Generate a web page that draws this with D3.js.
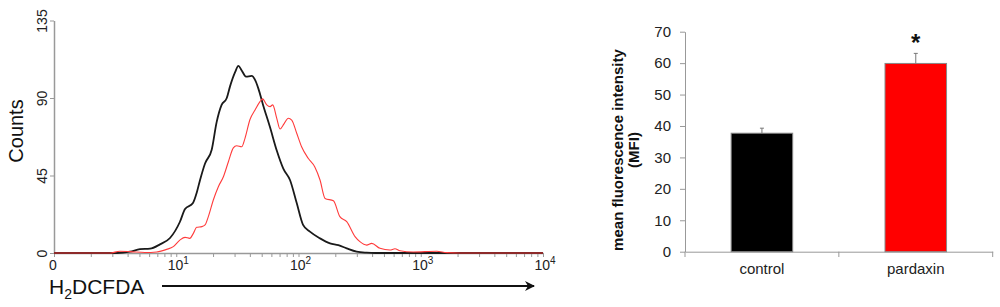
<!DOCTYPE html>
<html>
<head>
<meta charset="utf-8">
<script src="https://cdn.jsdelivr.net/npm/d3@7"></script>
<style>
  body { margin: 0; background: #fff; }
  text { font-family: Arial, "Liberation Sans", sans-serif; }
</style>
</head>
<body>
<div id="chart"></div>
<script>
// histogram traces: fluorescence intensity (log) vs counts
var control_intensity = [1, 3.27, 4.19, 5.05, 6.10, 7.36, 8.89, 10.7, 11.8, 13.7, 14.7, 15.6, 17.2, 19.5, 21.4, 23.5, 25.9, 27.5, 30.3, 32.2, 34.3, 37.2, 41.4, 44.1, 46.9, 51.3, 58.5, 66.4, 75.1, 85.2, 96.7, 109, 124, 150, 181, 212, 248, 299, 361, 423, 10000];
var control_counts    = [0, 0, 0.8, 2.2, 2.5, 5, 8.7, 18, 25.5, 29, 35, 42, 52, 60, 76, 86, 90, 96.6, 105, 108.6, 106, 102.4, 102.8, 100.5, 95.6, 86, 73, 59.5, 49, 42.4, 29, 16.3, 12.4, 8.5, 5.6, 4.6, 2.7, 0.8, 0.2, 0, 0];

var pardaxin_intensity = [1, 2.87, 3.46, 4.19, 5.55, 6.92, 8.35, 9.46, 10.7, 11.8, 12.9, 13.8, 14.7, 16.2, 17.2, 18.3, 20.1, 22.1, 24.3, 26.7, 29.3, 31.2, 34.3, 36.5, 40.1, 44.1, 48.4, 50.8, 55.0, 58.5, 61.5, 66.4, 70.6, 76.1, 82.5, 88.0, 96.7, 106, 120, 136, 150, 165, 193, 218, 248, 290, 318, 361, 397, 464, 560, 615, 676, 865, 1350, 1630, 2094, 10000];
var pardaxin_counts    = [0, 0, 1, 0.8, 0.3, 0.6, 2.1, 3.7, 7.5, 9.1, 8.5, 11.4, 14.9, 15.3, 16.3, 21.1, 30.8, 38.5, 44.3, 53, 61, 62.3, 61.7, 66.6, 77.5, 83, 87.9, 89.5, 86, 85, 86, 78.2, 72, 75, 78.2, 77.2, 69.5, 61.7, 55, 50, 42.4, 31.7, 30.3, 21.1, 18.2, 9.5, 6.6, 4.6, 5.6, 2.7, 1.7, 2.5, 1.3, 0.6, 1, 0.2, 0, 0];

var count_ticks = [0, 45, 90, 135];
var decade_ticks = [1, 10, 100, 1000, 10000];
var decade_labels = ['0', '10|1', '10|2', '10|3', '10|4'];

// bar chart
var groups = ['control', 'pardaxin'];
var mfi_values = [37.7, 59.9];
var mfi_errors = [1.6, 3.2];
var mfi_ticks = [0, 10, 20, 30, 40, 50, 60, 70];

var svg = d3.select('#chart')
    .append('svg')
    .attr('width', 1000)
    .attr('height', 307);

/* ---------- histogram ---------- */

var hx = d3.scaleLog()
    .domain([1, 10000])
    .range([54, 543]);

var hy = d3.scaleLinear()
    .domain([0, 135])
    .range([253, 20.5]);

var minor_ticks = [];
decade_ticks.forEach(function(d){
    if (d < 10000) {
        for (var k = 1; k < 10; k++) minor_ticks.push(d * k);
    }
});
minor_ticks.push(10000);

var hx_axis = svg.append('g')
    .attr('transform', 'translate(0,' + 253 + ')')
    .call(d3.axisBottom(hx).tickValues(minor_ticks).tickSize(4).tickSizeOuter(0).tickFormat(''));
hx_axis.select('.domain').attr('stroke', '#999').attr('stroke-width', 1.5);
hx_axis.selectAll('.tick line').attr('stroke', '#999');

var hx_labels = svg.append('g');
decade_ticks.forEach(function(d, i){
    var parts = decade_labels[i].split('|');
    var t = hx_labels.append('text')
        .attr('x', hx(d) + (parts.length > 1 ? 2 : -1))
        .attr('y', 270)
        .attr('text-anchor', 'middle')
        .attr('font-size', 14)
        .attr('fill', '#222');
    t.append('tspan').text(parts[0]);
    if (parts.length > 1) {
        t.append('tspan').attr('dy', -6).attr('font-size', 10).text(parts[1]);
    }
});

var hy_axis = svg.append('g')
    .attr('transform', 'translate(54,0)')
    .call(d3.axisLeft(hy).tickValues(count_ticks).tickSize(4).tickSizeOuter(0));
hy_axis.select('.domain').attr('stroke', '#999').attr('stroke-width', 1.5);
hy_axis.selectAll('.tick line').attr('stroke', '#999');
hy_axis.selectAll('.tick text')
    .attr('x', null)
    .attr('dy', null)
    .attr('text-anchor', 'middle')
    .attr('transform', 'translate(-7,0) rotate(-90)')
    .attr('font-size', 14)
    .attr('font-family', 'Arial, "Liberation Sans", sans-serif')
    .attr('fill', '#222');

svg.append('text')
    .attr('transform', 'translate(23,131) rotate(-90)')
    .attr('text-anchor', 'middle')
    .attr('font-size', 20)
    .attr('fill', '#111')
    .text('Counts');

var hist_line = d3.line()
    .x(function(d){ return hx(d[0]); })
    .y(function(d){ return hy(d[1]); })
    .curve(d3.curveMonotoneX);

svg.append('path')
    .datum(d3.zip(control_intensity, control_counts))
    .attr('d', hist_line)
    .attr('fill', 'none')
    .attr('stroke', '#1a1a1a')
    .attr('stroke-width', 1.8);

svg.append('path')
    .datum(d3.zip(pardaxin_intensity, pardaxin_counts))
    .attr('d', hist_line)
    .attr('fill', 'none')
    .attr('stroke', '#ff3b3b')
    .attr('stroke-width', 1.1);

// H2DCFDA label with arrow
var lab = svg.append('text')
    .attr('x', 49)
    .attr('y', 294)
    .attr('font-size', 21)
    .attr('fill', '#111');
lab.append('tspan').text('H');
lab.append('tspan').attr('dy', 5).attr('font-size', 14).text('2');
lab.append('tspan').attr('dy', -5).text('DCFDA');

svg.append('defs').append('marker')
    .attr('id', 'arrowhead')
    .attr('viewBox', '0 0 10 10')
    .attr('refX', 9)
    .attr('refY', 5)
    .attr('markerWidth', 5)
    .attr('markerHeight', 5)
    .attr('orient', 'auto')
    .append('path')
    .attr('d', 'M0,0 L10,5 L0,10 L3,5 Z')
    .attr('fill', '#111');

svg.append('line')
    .attr('x1', 162)
    .attr('y1', 286)
    .attr('x2', 534)
    .attr('y2', 286)
    .attr('stroke', '#111')
    .attr('stroke-width', 2)
    .attr('marker-end', 'url(#arrowhead)');

/* ---------- bar chart ---------- */

var bx = d3.scaleBand()
    .domain(groups)
    .range([685, 992.7])
    .paddingInner(0.6)
    .paddingOuter(0.3);

var by = d3.scaleLinear()
    .domain([0, 70])
    .range([251.7, 31.7]);

var by_axis = svg.append('g')
    .attr('transform', 'translate(685,0)')
    .call(d3.axisLeft(by).tickValues(mfi_ticks).tickSize(5).tickPadding(9).tickSizeOuter(0));
by_axis.select('.domain').attr('stroke', '#999');
by_axis.selectAll('.tick line').attr('stroke', '#999');
by_axis.selectAll('.tick text')
    .attr('font-size', 15)
    .attr('font-family', 'Arial, "Liberation Sans", sans-serif')
    .attr('fill', '#222');

var bx_axis = svg.append('g')
    .attr('transform', 'translate(0,251.7)')
    .call(d3.axisBottom(bx).tickSize(0).tickPadding(12).tickSizeOuter(0));
bx_axis.select('.domain').attr('stroke', '#999');
bx_axis.selectAll('.tick text')
    .attr('font-size', 15)
    .attr('font-family', 'Arial, "Liberation Sans", sans-serif')
    .attr('fill', '#222');

// category boundary ticks
var boundaries = groups.map(function(g){ return bx(g) - bx.step() * bx.paddingInner() / 2; });
boundaries.push(bx.range()[1]);
svg.append('g').selectAll('line')
    .data(boundaries)
    .enter()
    .append('line')
    .attr('x1', function(d){ return d; })
    .attr('x2', function(d){ return d; })
    .attr('y1', 251.7)
    .attr('y2', 257)
    .attr('stroke', '#999');

var bar_colors = ['#000000', '#ff0000'];

svg.append('g').selectAll('rect')
    .data(groups)
    .enter()
    .append('rect')
    .attr('x', function(d){ return bx(d); })
    .attr('y', function(d, i){ return by(mfi_values[i]); })
    .attr('width', bx.bandwidth())
    .attr('height', function(d, i){ return by(0) - by(mfi_values[i]); })
    .attr('fill', function(d, i){ return bar_colors[i]; })
    .attr('stroke', '#888')
    .attr('stroke-width', 1);

var err = svg.append('g').selectAll('g')
    .data(groups)
    .enter()
    .append('g');

err.append('line')
    .attr('x1', function(d){ return bx(d) + bx.bandwidth() / 2; })
    .attr('x2', function(d){ return bx(d) + bx.bandwidth() / 2; })
    .attr('y1', function(d, i){ return by(mfi_values[i]); })
    .attr('y2', function(d, i){ return by(mfi_values[i] + mfi_errors[i]); })
    .attr('stroke', '#777')
    .attr('stroke-width', 1);

err.append('line')
    .attr('x1', function(d){ return bx(d) + bx.bandwidth() / 2 - 2; })
    .attr('x2', function(d){ return bx(d) + bx.bandwidth() / 2 + 2; })
    .attr('y1', function(d, i){ return by(mfi_values[i] + mfi_errors[i]); })
    .attr('y2', function(d, i){ return by(mfi_values[i] + mfi_errors[i]); })
    .attr('stroke', '#777')
    .attr('stroke-width', 1);

svg.append('text')
    .attr('x', bx('pardaxin') + bx.bandwidth() / 2)
    .attr('y', 51)
    .attr('text-anchor', 'middle')
    .attr('font-size', 24)
    .attr('font-weight', 'bold')
    .attr('fill', '#111')
    .text('*');

var ytitle = svg.append('text')
    .attr('transform', 'translate(623,150) rotate(-90)')
    .attr('text-anchor', 'middle')
    .attr('font-size', 15)
    .attr('font-weight', 'bold')
    .attr('fill', '#111');
ytitle.append('tspan').attr('x', 0).attr('dy', 0).text('mean fluorescence intensity');
ytitle.append('tspan').attr('x', 0).attr('dy', 16).text('(MFI)');
</script>
</body>
</html>
